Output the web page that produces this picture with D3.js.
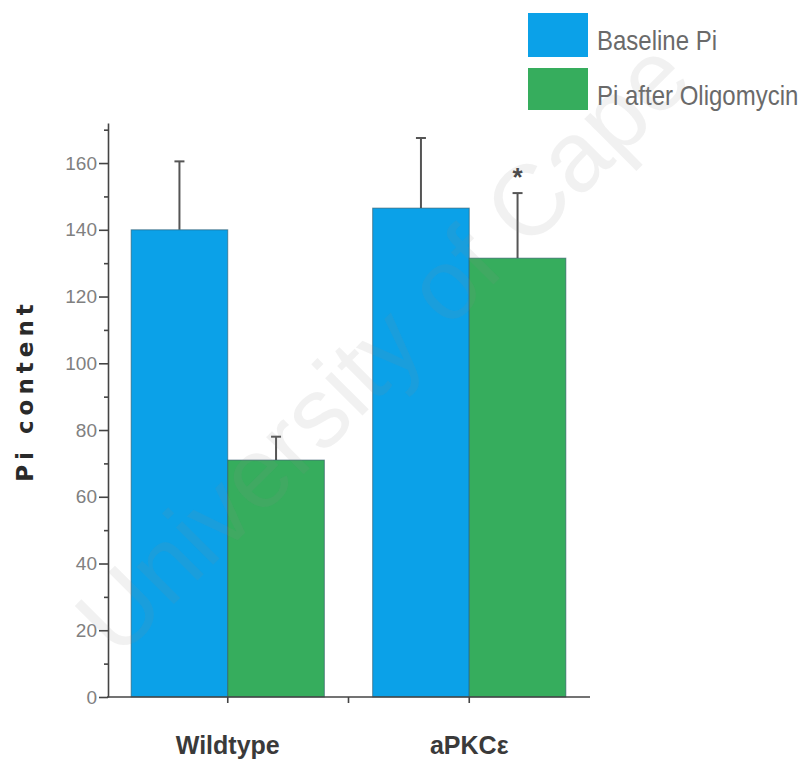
<!DOCTYPE html>
<html>
<head>
<meta charset="utf-8">
<script src="https://cdn.jsdelivr.net/npm/d3@7"></script>
<style>
  html, body { margin: 0; padding: 0; background: #fff; }
  svg { display: block; }
</style>
</head>
<body>
<script>
// ---- data ----
const categories = ["Wildtype", "aPKC\u03b5"];
const seriesNames = ["Baseline Pi", "Pi after Oligomycin"];
const baselineValues = [140, 146.5];
const oligomycinValues = [71, 131.5];
const baselineErrTop = [160.5, 167.5];
const oligomycinErrTop = [78, 151];
const significance = ["", "*"];
const yTickLabels = [0, 20, 40, 60, 80, 100, 120, 140, 160];
const yMinorTicks = [10, 30, 50, 70, 90, 110, 130, 150, 170];
const seriesColors = ["#0ba1e8", "#36ad5d"];

const W = 810, H = 763;
const svg = d3.select("body").append("svg").attr("width", W).attr("height", H);

const x0 = d3.scaleBand().domain(categories).range([107, 590]).paddingInner(0.2).paddingOuter(0.1);
const x1 = d3.scaleBand().domain(seriesNames).range([0, x0.bandwidth()]);
const y = d3.scaleLinear().domain([0, 172]).range([697, 123]);

const rows = categories.map((c, i) => ({
  cat: c,
  sig: significance[i],
  vals: [
    { s: seriesNames[0], v: baselineValues[i], e: baselineErrTop[i] },
    { s: seriesNames[1], v: oligomycinValues[i], e: oligomycinErrTop[i] }
  ]
}));
const color = d3.scaleOrdinal().domain(seriesNames).range(seriesColors);

// bars
const g = svg.append("g");
const grp = g.selectAll("g.grp").data(rows).join("g")
  .attr("class", "grp")
  .attr("transform", d => `translate(${x0(d.cat)},0)`);

grp.selectAll("line.err").data(d => d.vals).join("line")
  .attr("class", "err")
  .attr("x1", d => x1(d.s) + x1.bandwidth() / 2)
  .attr("x2", d => x1(d.s) + x1.bandwidth() / 2)
  .attr("y1", d => y(d.v))
  .attr("y2", d => y(d.e))
  .attr("stroke", "#555").attr("stroke-width", 2);
grp.selectAll("line.cap").data(d => d.vals).join("line")
  .attr("class", "cap")
  .attr("x1", d => x1(d.s) + x1.bandwidth() / 2 - 5)
  .attr("x2", d => x1(d.s) + x1.bandwidth() / 2 + 5)
  .attr("y1", d => y(d.e))
  .attr("y2", d => y(d.e))
  .attr("stroke", "#555").attr("stroke-width", 2);

grp.selectAll("rect").data(d => d.vals).join("rect")
  .attr("x", d => x1(d.s))
  .attr("width", x1.bandwidth())
  .attr("y", d => y(d.v))
  .attr("height", d => y(0) - y(d.v))
  .attr("fill", d => color(d.s))
  .attr("stroke", "#2d5566").attr("stroke-width", 1).attr("stroke-opacity", 0.6);

// significance star
grp.append("text")
  .attr("x", x1(seriesNames[1]) + x1.bandwidth() / 2)
  .attr("y", d => y(d.vals[1].e) - 7)
  .attr("text-anchor", "middle")
  .attr("font-family", "Liberation Sans, Arial, sans-serif")
  .attr("font-size", 26).attr("font-weight", "bold")
  .attr("fill", "#444")
  .text(d => d.sig);

// y axis
const yAxis = svg.append("g").attr("transform", "translate(108,0)")
  .call(d3.axisLeft(y).tickValues(yTickLabels).tickSize(9).tickSizeOuter(0).tickPadding(2).tickFormat(d3.format("d")));
yAxis.selectAll("text")
  .attr("font-family", "Liberation Sans, Arial, sans-serif")
  .attr("font-size", 19).attr("fill", "#808080");
yAxis.selectAll("line, path").attr("stroke", "#444").attr("stroke-width", 1.6);
const yMinor = svg.append("g").attr("transform", "translate(108,0)")
  .call(d3.axisLeft(y).tickValues(yMinorTicks).tickSize(4).tickSizeOuter(0).tickFormat(""));
yMinor.select("path").remove();
yMinor.selectAll("line").attr("stroke", "#444").attr("stroke-width", 1.6);

// x axis
const xAxis = svg.append("g").attr("transform", `translate(0,${y(0)})`)
  .call(d3.axisBottom(x0).tickSize(6).tickSizeOuter(0).tickPadding(33));
xAxis.select("path").attr("d", `M107,0H590`);
xAxis.selectAll("line, path").attr("stroke", "#444").attr("stroke-width", 1.6);
xAxis.selectAll("text")
  .attr("font-family", "Liberation Sans, Arial, sans-serif")
  .attr("font-size", 25).attr("font-weight", "bold").attr("fill", "#3a3a3a");
// divider tick between groups
const mid = (x0(categories[0]) + x0.bandwidth() + x0(categories[1])) / 2;
xAxis.append("line").attr("x1", mid).attr("x2", mid).attr("y1", 0).attr("y2", 6)
  .attr("stroke", "#444").attr("stroke-width", 1.6);

// y title
svg.append("text")
  .attr("transform", `translate(33,${(298 + 483) / 2}) rotate(-90)`)
  .attr("text-anchor", "middle")
  .attr("font-family", "DejaVu Sans, Verdana, sans-serif")
  .attr("font-weight", "bold").attr("font-size", 23)
  .attr("letter-spacing", 5)
  .attr("fill", "#2a2a2a")
  .text("Pi content");

// legend
const leg = svg.append("g");
const legY = [13, 68];
const legH = [44, 42];
const legBaseline = [50, 105];
seriesNames.forEach((s, i) => {
  leg.append("rect").attr("x", 528).attr("y", legY[i]).attr("width", 60).attr("height", legH[i])
    .attr("fill", color(s));
  leg.append("text")
    .attr("transform", `translate(597,${legBaseline[i]}) scale(1,1.12)`)
    .attr("font-family", "Liberation Sans, Arial, sans-serif")
    .attr("font-size", 24).attr("fill", "#6a6a6a")
    .text(s);
});

// watermark
svg.append("text")
  .attr("transform", "translate(118,660) rotate(-45)")
  .attr("font-family", "Liberation Sans, Arial, sans-serif")
  .attr("font-size", 100).attr("fill", "#888").attr("fill-opacity", 0.12)
  .text("University of Cape");
</script>
</body>
</html>
